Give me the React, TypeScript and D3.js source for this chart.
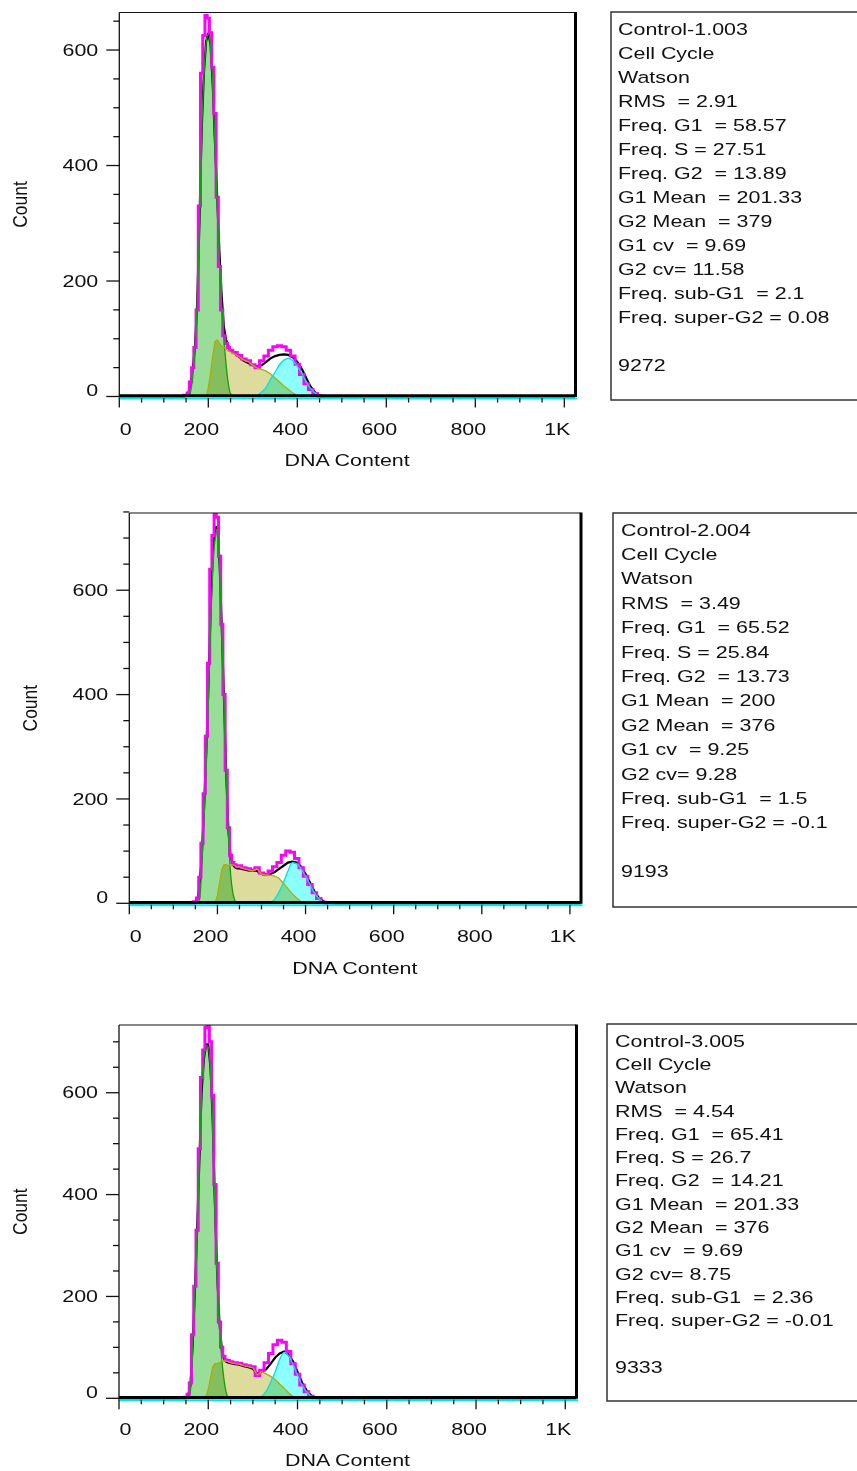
import React from 'react';
import * as d3 from 'd3';

// Channel grid (DNA Content) shared by all series
const CHANNELS = [0, 140, 150, 155, 160, 165, 170, 175, 180, 185, 190, 195, 200, 205, 210, 215, 220, 225, 230, 235, 240, 245, 250,
  260, 270, 280, 290, 300, 310, 320, 330, 340, 350, 360, 370, 380, 390, 400, 410, 420, 430, 440, 450, 460, 470, 480, 1024];

// Panel 1 (Control-1.003)
const P1_MODEL = [0, 0, 2, 6, 25, 50, 85, 150, 330, 560, 625, 660, 655, 630, 570, 490, 345, 225, 150, 105, 92, 85, 80,
  76, 71, 65, 62, 55, 50, 62, 70, 80, 86, 88, 86, 80, 70, 56, 38, 22, 12, 5, 1, 0, 0, 0, 0];
const P1_DATA = [0, 0, 1, 5, 22, 48, 85, 160, 300, 460, 560, 615, 630, 610, 540, 440, 345, 250, 175, 120, 98, 88, 80,
  74, 68, 62, 58, 54, 52, 54, 60, 66, 70, 72, 73, 72, 68, 60, 48, 32, 17, 7, 2, 0, 0, 0, 0];
const P1_G1 = [0, 0, 0, 2, 8, 35, 80, 160, 290, 450, 555, 610, 628, 605, 535, 430, 330, 235, 160, 100, 55, 22, 5,
  0, 0, 0, 0, 0, 0, 0, 0, 0, 0, 0, 0, 0, 0, 0, 0, 0, 0, 0, 0, 0, 0, 0, 0];
const P1_S = [0, 0, 0, 0, 0, 0, 0, 0, 0, 0, 0, 0, 15, 40, 70, 95, 98, 92, 88, 85, 82, 79, 77,
  73, 68, 63, 60, 54, 49, 47, 44, 39, 32, 25, 18, 12, 6, 2, 0, 0, 0, 0, 0, 0, 0, 0, 0];
const P1_G2 = [0, 0, 0, 0, 0, 0, 0, 0, 0, 0, 0, 0, 0, 0, 0, 0, 0, 0, 0, 0, 0, 0, 0,
  0, 0, 0, 0, 0, 2, 8, 16, 30, 42, 55, 63, 66, 62, 52, 40, 25, 14, 6, 1, 0, 0, 0, 0];

// Panel 2 (Control-2.004)
const P2_MODEL = [0, 0, 3, 10, 50, 115, 210, 320, 460, 640, 705, 745, 740, 665, 535, 400, 255, 145, 92, 78, 74, 70, 72,
  68, 66, 64, 68, 58, 55, 62, 70, 78, 92, 100, 98, 86, 68, 52, 36, 20, 9, 2, 0, 0, 0, 0, 0];
const P2_DATA = [0, 0, 2, 8, 40, 100, 190, 300, 430, 580, 680, 720, 722, 650, 525, 390, 250, 140, 88, 74, 69, 67, 67,
  65, 63, 62, 62, 57, 54, 56, 60, 66, 72, 78, 80, 78, 70, 56, 40, 23, 11, 4, 1, 0, 0, 0, 0];
const P2_G1 = [0, 0, 0, 0, 10, 80, 170, 270, 400, 540, 650, 700, 715, 640, 515, 380, 240, 130, 55, 20, 5, 0, 0,
  0, 0, 0, 0, 0, 0, 0, 0, 0, 0, 0, 0, 0, 0, 0, 0, 0, 0, 0, 0, 0, 0, 0, 0];
const P2_S = [0, 0, 0, 0, 0, 0, 0, 0, 0, 0, 0, 2, 15, 40, 65, 74, 74, 72, 72, 74, 72, 69, 70,
  66, 64, 62, 66, 56, 54, 54, 52, 48, 38, 28, 18, 10, 3, 0, 0, 0, 0, 0, 0, 0, 0, 0, 0];
const P2_G2 = [0, 0, 0, 0, 0, 0, 0, 0, 0, 0, 0, 0, 0, 0, 0, 0, 0, 0, 0, 0, 0, 0, 0,
  0, 0, 0, 0, 0, 0, 2, 8, 22, 40, 62, 78, 76, 66, 52, 36, 20, 9, 2, 0, 0, 0, 0, 0];

// Panel 3 (Control-3.005)
const P3_MODEL = [0, 0, 2, 8, 30, 125, 220, 330, 490, 630, 684, 728, 740, 700, 595, 420, 265, 150, 100, 82, 75, 74, 72,
  70, 69, 66, 64, 62, 45, 55, 70, 88, 105, 114, 110, 92, 68, 47, 26, 13, 4, 1, 0, 0, 0, 0, 0];
const P3_DATA = [0, 0, 2, 6, 25, 105, 210, 330, 465, 600, 665, 695, 695, 650, 545, 380, 245, 150, 100, 78, 72, 70, 69,
  67, 66, 63, 61, 58, 48, 52, 57, 68, 80, 88, 92, 86, 72, 52, 31, 16, 6, 1, 0, 0, 0, 0, 0];
const P3_G1 = [0, 0, 0, 0, 15, 100, 210, 320, 470, 610, 665, 692, 690, 640, 530, 360, 230, 140, 80, 38, 12, 0, 0,
  0, 0, 0, 0, 0, 0, 0, 0, 0, 0, 0, 0, 0, 0, 0, 0, 0, 0, 0, 0, 0, 0, 0, 0];
const P3_S = [0, 0, 0, 0, 0, 0, 0, 0, 0, 0, 0, 3, 18, 40, 62, 68, 68, 70, 72, 74, 73, 72, 70,
  68, 67, 64, 62, 60, 46, 52, 48, 43, 37, 28, 20, 11, 3, 0, 0, 0, 0, 0, 0, 0, 0, 0, 0];
const P3_G2 = [0, 0, 0, 0, 0, 0, 0, 0, 0, 0, 0, 0, 0, 0, 0, 0, 0, 0, 0, 0, 0, 0, 0,
  0, 0, 0, 0, 0, 0, 4, 14, 32, 52, 76, 90, 84, 66, 46, 26, 13, 4, 0, 0, 0, 0, 0, 0];

// Axis ticks / labels
const X_MAJOR = [0, 200, 400, 600, 800, 1000];
const X_LABELS = ['0', '200', '400', '600', '800', '1K'];
const Y_MAJOR = [0, 200, 400, 600];
const X_TITLE = 'DNA Content';
const Y_TITLE = 'Count';

// Statistics boxes
const INFO_1 = ['Control-1.003', 'Cell Cycle', 'Watson', 'RMS  = 2.91', 'Freq. G1  = 58.57', 'Freq. S = 27.51',
  'Freq. G2  = 13.89', 'G1 Mean  = 201.33', 'G2 Mean  = 379', 'G1 cv  = 9.69', 'G2 cv= 11.58',
  'Freq. sub-G1  = 2.1', 'Freq. super-G2 = 0.08', '', '9272'];
const INFO_2 = ['Control-2.004', 'Cell Cycle', 'Watson', 'RMS  = 3.49', 'Freq. G1  = 65.52', 'Freq. S = 25.84',
  'Freq. G2  = 13.73', 'G1 Mean  = 200', 'G2 Mean  = 376', 'G1 cv  = 9.25', 'G2 cv= 9.28',
  'Freq. sub-G1  = 1.5', 'Freq. super-G2 = -0.1', '', '9193'];
const INFO_3 = ['Control-3.005', 'Cell Cycle', 'Watson', 'RMS  = 4.54', 'Freq. G1  = 65.41', 'Freq. S = 26.7',
  'Freq. G2  = 14.21', 'G1 Mean  = 201.33', 'G2 Mean  = 376', 'G1 cv  = 9.69', 'G2 cv= 8.75',
  'Freq. sub-G1  = 2.36', 'Freq. super-G2 = -0.01', '', '9333'];

const LAYOUT = [
  { left: 119.3, right: 575, top: 12.5, y0: 396.5, yTop: 665, yTickMax: 650, countX: 20, labelDy: 33, titleDy: 64,
    boxX: 611, boxTop: 12, boxBottom: 400, textX: 618, textY: 29, lineH: 24 },
  { left: 129.3, right: 580.5, top: 513, y0: 903.3, yTop: 748, yTickMax: 750, countX: 30.5, labelDy: 33, titleDy: 65,
    boxX: 613, boxTop: 513, boxBottom: 907, textX: 621, textY: 530, lineH: 24.4 },
  { left: 119, right: 576, top: 1025, y0: 1398.3, yTop: 733, yTickMax: 700, countX: 20, labelDy: 31, titleDy: 62,
    boxX: 607, boxTop: 1024, boxBottom: 1401, textX: 615, textY: 1041, lineH: 23.3 },
];

const PANELS = [
  { model: P1_MODEL, data: P1_DATA, g1: P1_G1, s: P1_S, g2: P1_G2, info: INFO_1 },
  { model: P2_MODEL, data: P2_DATA, g1: P2_G1, s: P2_S, g2: P2_G2, info: INFO_2 },
  { model: P3_MODEL, data: P3_DATA, g1: P3_G1, s: P3_S, g2: P3_G2, info: INFO_3 },
];

const FONT = "'Liberation Sans', Arial, sans-serif";

function SText({ x, y, children, anchor = 'start', size = 16.5, sx = 1.3, rotate = 0 }: any) {
  const t = `translate(${x},${y}) scale(${sx},1)` + (rotate ? ` rotate(${rotate})` : '');
  return (
    <text transform={t} textAnchor={anchor} dominantBaseline="central" fontSize={size}
      fontFamily={FONT} fill="#111" style={{ whiteSpace: 'pre' }}>{children}</text>
  );
}

type Pt = [number, number];

function Panel({ cfg, series, idx }: any) {
  const x = d3.scaleLinear().domain([0, 1024]).range([cfg.left, cfg.right]);
  const y = d3.scaleLinear().domain([0, cfg.yTop]).range([cfg.y0, cfg.top]);
  const rows = (vals: number[]): Pt[] => CHANNELS.map((c, i) => [c, vals[i]] as Pt);
  const support = (vals: number[]): Pt[] => {
    const nz = vals.map((v, i) => (v > 0 ? i : -1)).filter(i => i >= 0);
    const a = Math.max(0, nz[0] - 1);
    const b = Math.min(vals.length - 1, nz[nz.length - 1] + 1);
    return rows(vals).slice(a, b + 1);
  };
  const area = (curve: any) => d3.area<Pt>().x(d => x(d[0])).y0(y(0)).y1(d => y(d[1])).curve(curve);
  const line = (curve: any) => d3.line<Pt>().x(d => x(d[0])).y(d => y(d[1])).curve(curve);

  const clipId = `clip-${idx}`;
  const xMinor = d3.range(0, 1001, 50);
  const yMinor = d3.range(0, cfg.yTickMax + 1, 50);

  return (
    <g>
      <defs>
        <clipPath id={clipId}>
          <rect x={cfg.left} y={cfg.top} width={cfg.right - cfg.left} height={cfg.y0 - cfg.top + 2} />
        </clipPath>
      </defs>
      <g clipPath={`url(#${clipId})`}>
        <path d={area(d3.curveMonotoneX)(support(series.g1)) || ''} fill="#98dd98" style={{ mixBlendMode: 'multiply' }} />
        <path d={area(d3.curveLinear)(support(series.s)) || ''} fill="#dedc9c" style={{ mixBlendMode: 'multiply' }} />
        <path d={area(d3.curveMonotoneX)(support(series.g2)) || ''} fill="#8cffff" style={{ mixBlendMode: 'multiply' }} />
        <path d={line(d3.curveLinear)(rows(series.data)) || ''} fill="none" stroke="#000" strokeWidth={2.2} />
        <path d={line(d3.curveStep)(support(series.model)) || ''} fill="none" stroke="#ff00ff" strokeWidth={3} />
        <path d={line(d3.curveMonotoneX)(support(series.g1)) || ''} fill="none" stroke="#10a010" strokeWidth={1.3} />
        <path d={line(d3.curveLinear)(support(series.s)) || ''} fill="none" stroke="#b0ad00" strokeWidth={1.3} />
        <path d={line(d3.curveMonotoneX)(support(series.g2)) || ''} fill="none" stroke="#00e2e2" strokeWidth={1.3} />
      </g>
      {/* baseline */}
      <line x1={cfg.left} x2={cfg.right} y1={cfg.y0 - 0.8} y2={cfg.y0 - 0.8} stroke="#000" strokeWidth={3} />
      {/* frame */}
      <line x1={cfg.left} x2={cfg.right} y1={cfg.top} y2={cfg.top} stroke="#111" strokeWidth={1.2} />
      <line x1={cfg.left} x2={cfg.left} y1={cfg.top} y2={cfg.y0 + 2} stroke="#111" strokeWidth={1.3} />
      <line x1={cfg.right + 0.5} x2={cfg.right + 0.5} y1={cfg.top - 0.6} y2={cfg.y0 + 0.5} stroke="#000" strokeWidth={3} />
      {/* x axis */}
      <line x1={cfg.left} x2={cfg.right + 2} y1={cfg.y0 + 2} y2={cfg.y0 + 2} stroke="#00e8e8" strokeWidth={2} />
      {xMinor.map(v => (
        <line key={`xt${v}`} x1={x(v)} x2={x(v)} y1={cfg.y0 + 1.5}
          y2={cfg.y0 + (v % 200 === 0 ? 11 : 6)} stroke="#111" strokeWidth={1.3} />
      ))}
      {X_MAJOR.map((v, i) => (
        i === 0
          ? <SText key={`xl${v}`} x={x(v) + 0.5} y={cfg.y0 + cfg.labelDy}>{X_LABELS[i]}</SText>
          : <SText key={`xl${v}`} x={x(v) - 7} y={cfg.y0 + cfg.labelDy} anchor="middle">{X_LABELS[i]}</SText>
      ))}
      <SText x={(cfg.left + cfg.right) / 2} y={cfg.y0 + cfg.titleDy} anchor="middle">{X_TITLE}</SText>
      {/* y axis */}
      {yMinor.map(v => (
        <line key={`yt${v}`} x1={cfg.left - (v % 200 === 0 ? 13 : 6)} x2={cfg.left} y1={y(v)} y2={y(v)}
          stroke="#111" strokeWidth={1.3} />
      ))}
      {Y_MAJOR.map(v => (
        <SText key={`yl${v}`} x={cfg.left - 21} y={v === 0 ? y(v) - 6 : y(v)} anchor="end">{String(v)}</SText>
      ))}
      <SText x={cfg.countX} y={(cfg.top + cfg.y0) / 2} anchor="middle" size={17.5} sx={1.15} rotate={-90}>{Y_TITLE}</SText>
      {/* statistics box */}
      <rect x={cfg.boxX} y={cfg.boxTop} width={857 - cfg.boxX + 20} height={cfg.boxBottom - cfg.boxTop}
        fill="none" stroke="#333" strokeWidth={1.5} />
      {series.info.map((t: string, i: number) => (
        t ? <SText key={`in${i}`} x={cfg.textX} y={cfg.textY + i * cfg.lineH}>{t}</SText> : null
      ))}
    </g>
  );
}

export default function App() {
  return (
    <div style={{ position: 'absolute', left: 0, top: 0 }}>
      <svg width={857} height={1471} style={{ display: 'block', background: '#fff' }}>
        <rect x={0} y={0} width={857} height={1471} fill="#fff" />
        {LAYOUT.map((cfg, i) => (
          <Panel key={i} idx={i} cfg={cfg} series={PANELS[i]} />
        ))}
      </svg>
    </div>
  );
}
